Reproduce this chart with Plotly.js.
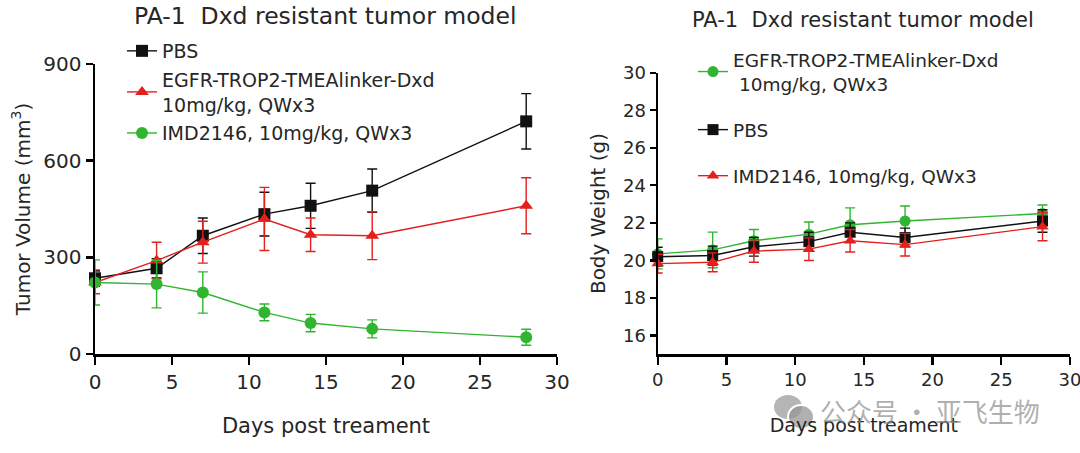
<!DOCTYPE html>
<html>
<head>
<meta charset="utf-8">
<script src="https://cdn.plot.ly/plotly-3.0.1.min.js"></script>
<style>
  html, body { margin: 0; padding: 0; background: #ffffff; }
  #chart { width: 1080px; height: 453px; }
</style>
</head>
<body>
<div id="chart"></div>
<script>
// days after first dose
const days = [0, 4, 7, 11, 14, 18, 28]

// tumor volume (mm3), mean and error
const tvPBS = [235, 266, 367, 434, 460, 507, 722]
const tvPBSErr = [25, 30, 55, 68, 70, 67, 86]
const tvEGFR = [222, 290, 347, 419, 370, 367, 460]
const tvEGFRErr = [35, 57, 65, 98, 52, 74, 87]
const tvIMD = [222, 217, 191, 129, 96, 78, 52]
const tvIMDErr = [70, 74, 64, 26, 27, 28, 25]

// body weight (g), mean and error
const bwGreen = [20.35, 20.56, 21.05, 21.4, 21.9, 22.1, 22.5]
const bwGreenErr = [0.8, 0.95, 0.6, 0.65, 0.9, 0.8, 0.45]
const bwBlack = [20.2, 20.26, 20.73, 21.0, 21.5, 21.22, 22.1]
const bwBlackErr = [0.5, 0.5, 0.5, 0.5, 0.5, 0.5, 0.6]
const bwRed = [19.83, 19.9, 20.5, 20.6, 21.05, 20.84, 21.8]
const bwRedErr = [0.5, 0.5, 0.6, 0.6, 0.6, 0.6, 0.75]

const leftNames = ['PBS', 'EGFR-TROP2-TMEAlinker-Dxd<br>10mg/kg, QWx3', 'IMD2146, 10mg/kg, QWx3']
const rightNames = ['EGFR-TROP2-TMEAlinker-Dxd<br> 10mg/kg, QWx3', 'PBS', 'IMD2146, 10mg/kg, QWx3']

const BLACK = '#111111'
const RED = '#e3201e'
const GREEN = '#2fb52f'
const TEXT = '#262626'
const FONT = '"DejaVu Sans", "Open Sans", sans-serif'

function series(x, y, err, name, color, symbol, axes, legend, group, size) {
  return {
    type: 'scatter',
    mode: 'lines+markers',
    x: x,
    y: y,
    name: name,
    xaxis: axes[0],
    yaxis: axes[1],
    legend: legend,
    legendgroup: group,
    cliponaxis: false,
    line: { color: color, width: 1.4 },
    marker: { color: color, symbol: symbol, size: size },
    error_y: { type: 'data', array: err, color: color, thickness: 1.4, width: 5 },
  }
}

const data = [
  series(days, tvPBS, tvPBSErr, leftNames[0], BLACK, 'square', ['x', 'y'], 'legend', 'l1', 12),
  series(days, tvEGFR, tvEGFRErr, leftNames[1], RED, 'triangle-up', ['x', 'y'], 'legend', 'l2', 12),
  series(days, tvIMD, tvIMDErr, leftNames[2], GREEN, 'circle', ['x', 'y'], 'legend', 'l3', 12),
  series(days, bwGreen, bwGreenErr, rightNames[0], GREEN, 'circle', ['x2', 'y2'], 'legend2', 'r1', 11),
  series(days, bwBlack, bwBlackErr, rightNames[1], BLACK, 'square', ['x2', 'y2'], 'legend2', 'r2', 11),
  series(days, bwRed, bwRedErr, rightNames[2], RED, 'triangle-up', ['x2', 'y2'], 'legend2', 'r3', 11),
]

const axisStyle = {
  showgrid: false,
  zeroline: false,
  showline: true,
  linecolor: '#000000',
  ticks: 'outside',
  tickcolor: '#000000',
  ticklabeloverflow: 'allow',
  fixedrange: true,
}

const layout = {
  width: 1080,
  height: 453,
  margin: { t: 0, r: 0, b: 0, l: 0 },
  paper_bgcolor: '#ffffff',
  plot_bgcolor: '#ffffff',
  font: { family: FONT, color: TEXT },
  showlegend: true,
  xaxis: Object.assign({}, axisStyle, {
    domain: [95 / 1080, 557 / 1080],
    range: [0, 30],
    dtick: 5,
    anchor: 'y',
    linewidth: 2.5,
    tickwidth: 2.5,
    ticklen: 8,
    tickfont: { size: 20, color: TEXT },
    title: { text: 'Days post treament', font: { size: 21 }, standoff: 26 },
  }),
  yaxis: Object.assign({}, axisStyle, {
    domain: [1 - 354 / 453, 1 - 64 / 453],
    range: [0, 900],
    tickvals: [0, 300, 600, 900],
    anchor: 'x',
    linewidth: 2.5,
    tickwidth: 2.5,
    ticklen: 7,
    tickfont: { size: 20, color: TEXT },
    title: { text: 'Tumor Volume (mm<sup>3</sup>)', font: { size: 20 }, standoff: 8 },
  }),
  xaxis2: Object.assign({}, axisStyle, {
    domain: [657.7 / 1080, 1070 / 1080],
    range: [0, 30],
    dtick: 5,
    anchor: 'y2',
    linewidth: 2.2,
    tickwidth: 2.2,
    ticklen: 8,
    tickfont: { size: 18, color: TEXT },
    title: { text: 'Days post treament', font: { size: 19 }, standoff: 30 },
  }),
  yaxis2: Object.assign({}, axisStyle, {
    domain: [1 - 354.3 / 453, 1 - 72.7 / 453],
    range: [15, 30],
    tickvals: [16, 18, 20, 22, 24, 26, 28, 30],
    anchor: 'x2',
    linewidth: 2.2,
    tickwidth: 2.2,
    ticklen: 6,
    tickfont: { size: 18, color: TEXT },
    title: { text: 'Body Weight (g)', font: { size: 20 }, standoff: 12 },
  }),
  legend: {
    x: 122 / 1080, xanchor: 'left',
    y: 1 - 32 / 453, yanchor: 'top',
    bgcolor: 'rgba(0,0,0,0)',
    font: { size: 19, color: TEXT },
    traceorder: 'grouped',
    tracegroupgap: 1,
    itemwidth: 30,
  },
  legend2: {
    x: 693 / 1080, xanchor: 'left',
    y: 1 - 41 / 453, yanchor: 'top',
    bgcolor: 'rgba(0,0,0,0)',
    font: { size: 18.5, color: TEXT },
    traceorder: 'grouped',
    tracegroupgap: 19,
    itemwidth: 30,
  },
  annotations: [
    {
      xref: 'paper', yref: 'paper', x: 325 / 1080, y: 1 - 16 / 453,
      xanchor: 'center', yanchor: 'middle', showarrow: false,
      text: 'PA-1  Dxd resistant tumor model',
      font: { size: 23.5, color: TEXT },
    },
    {
      xref: 'paper', yref: 'paper', x: 863 / 1080, y: 1 - 20 / 453,
      xanchor: 'center', yanchor: 'middle', showarrow: false,
      text: 'PA-1  Dxd resistant tumor model',
      font: { size: 21, color: TEXT },
    },
    {
      xref: 'paper', yref: 'paper', x: 930 / 1080, y: 1 - 410 / 453,
      xanchor: 'center', yanchor: 'middle', showarrow: false,
      text: '公众号 · 亚飞生物',
      font: { family: '"Noto Sans CJK SC", sans-serif', size: 26, color: 'rgba(140,140,140,0.7)' },
    },
  ],
  shapes: [
    // watermark logo bubbles
    { type: 'circle', xref: 'paper', yref: 'paper',
      x0: 774 / 1080, x1: 802 / 1080, y0: 1 - 419 / 453, y1: 1 - 395 / 453,
      fillcolor: 'rgba(150,150,150,0.7)', line: { width: 0 } },
    { type: 'circle', xref: 'paper', yref: 'paper',
      x0: 788 / 1080, x1: 814 / 1080, y0: 1 - 429 / 453, y1: 1 - 405 / 453,
      fillcolor: 'rgba(150,150,150,0.75)', line: { color: '#ffffff', width: 2 } },
  ],
}

const config = { staticPlot: true, displayModeBar: false }

Plotly.newPlot('chart', data, layout, config)
</script>
</body>
</html>
